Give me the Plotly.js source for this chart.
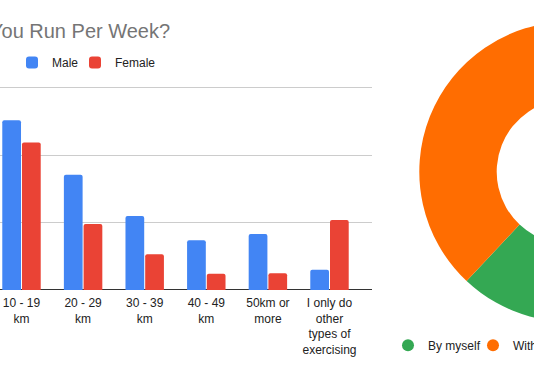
<!DOCTYPE html>
<html><head><meta charset="utf-8">
<script src="https://cdn.plot.ly/plotly-3.0.1.min.js"></script>
<style>
html,body{margin:0;padding:0;overflow:hidden;width:534px;height:371px;background:#fff}
#wrap{position:relative;width:534px;height:371px;overflow:hidden}
#chart{position:absolute;left:-100px;top:0;width:900px;height:371px}
</style></head><body><div id="wrap"><div id="chart"></div></div>
<script>
// Bar chart data (visible part)
const categories = ['10 - 19 km', '20 - 29 km', '30 - 39 km', '40 - 49 km', '50km or more', 'I only do other types of exercising'];
const tickLabels = ['10 - 19<br>km', '20 - 29<br>km', '30 - 39<br>km', '40 - 49<br>km', '50km or<br>more', 'I only do<br>other<br>types of<br>exercising'];
const maleValues = [25.2, 17.1, 11.0, 7.4, 8.3, 3.0];
const femaleValues = [21.9, 9.8, 5.3, 2.4, 2.5, 10.4];
const barTitle = 'You Run Per Week?';

// Donut data
const companyLabels = ['By myself', 'With others'];
const companyValues = [62, 38];

const FONT = 'Liberation Sans, Arial, sans-serif';
const FW = 900, FH = 371, SHIFT = 100;
const px = x => (x + SHIFT) / FW;      // screen x -> paper fraction
const py = y => 1 - y / FH;            // screen y -> paper fraction

const colMale = '#4285F4', colFemale = '#EA4335';
const colGreen = '#34A853', colOrange = '#FF6D01';

const traces = [
  {type: 'bar', name: 'Male', x: categories, y: maleValues, marker: {color: colMale}, legend: 'legend', hoverinfo: 'none'},
  {type: 'bar', name: 'Female', x: categories, y: femaleValues, marker: {color: colFemale}, legend: 'legend3', hoverinfo: 'none'},
  {type: 'pie', labels: companyLabels, values: companyValues, hole: 0.484, sort: false,
   direction: 'clockwise', rotation: 0, textinfo: 'none', showlegend: false,
   marker: {colors: [colGreen, colOrange], line: {width: 0}},
   domain: {x: [px(419.3), px(719.3)], y: [py(321.7), py(21.7)]}, hoverinfo: 'none'},
  {type: 'scatter', mode: 'markers', name: companyLabels[0], x: [null], y: [null],
   marker: {color: colGreen, size: 12, symbol: 'circle'}, legend: 'legend2', hoverinfo: 'none'},
  {type: 'scatter', mode: 'markers', name: companyLabels[1], x: [null], y: [null],
   marker: {color: colOrange, size: 12, symbol: 'circle'}, legend: 'legend4', hoverinfo: 'none'}
];

const legendBase = {orientation: 'h', xanchor: 'left', yanchor: 'middle',
  font: {size: 12, color: '#222'}, bgcolor: 'rgba(0,0,0,0)'};

// y scale: 0..30 spans screen y 290..88; extend range a little so the top gridline is drawn
const yTop = 31, pxPerUnit = (290 - 88) / 30;

const layout = {
  width: FW, height: FH,
  margin: {l: 0, r: 0, t: 0, b: 0, pad: 0},
  paper_bgcolor: '#fff', plot_bgcolor: '#fff',
  font: {family: FONT, size: 12, color: '#222'},
  title: {text: barTitle, font: {family: FONT, size: 20, color: '#757575'},
          x: px(-10), xref: 'paper', xanchor: 'left', y: py(30.5), yref: 'paper', yanchor: 'middle'},
  barmode: 'group', bargap: 0.36, bargroupgap: 0.05, barcornerradius: 2,
  xaxis: {domain: [px(-30), px(371.7)], type: 'category', range: [-0.836, 5.685],
          tickvals: categories, ticktext: tickLabels, showgrid: false, ticks: '',
          ticklabelstandoff: 4,
          tickfont: {size: 12, color: '#222'}, showline: false, zeroline: false, fixedrange: true},
  yaxis: {domain: [py(290), py(290 - yTop * pxPerUnit)], range: [0, yTop], tickvals: [0, 10, 20, 30], showticklabels: false,
          gridcolor: '#cccccc', gridwidth: 1, zeroline: true, zerolinecolor: '#333333', zerolinewidth: 1,
          showline: false, fixedrange: true},
  legend: Object.assign({}, legendBase, {x: px(12), y: py(62.5)}),
  legend3: Object.assign({}, legendBase, {x: px(75), y: py(62.5)}),
  legend2: Object.assign({}, legendBase, {x: px(388), y: py(345.3)}),
  legend4: Object.assign({}, legendBase, {x: px(473), y: py(345.3)}),
  showlegend: true
};

Plotly.newPlot('chart', traces, layout, {staticPlot: true, displayModeBar: false});
</script></body></html>
